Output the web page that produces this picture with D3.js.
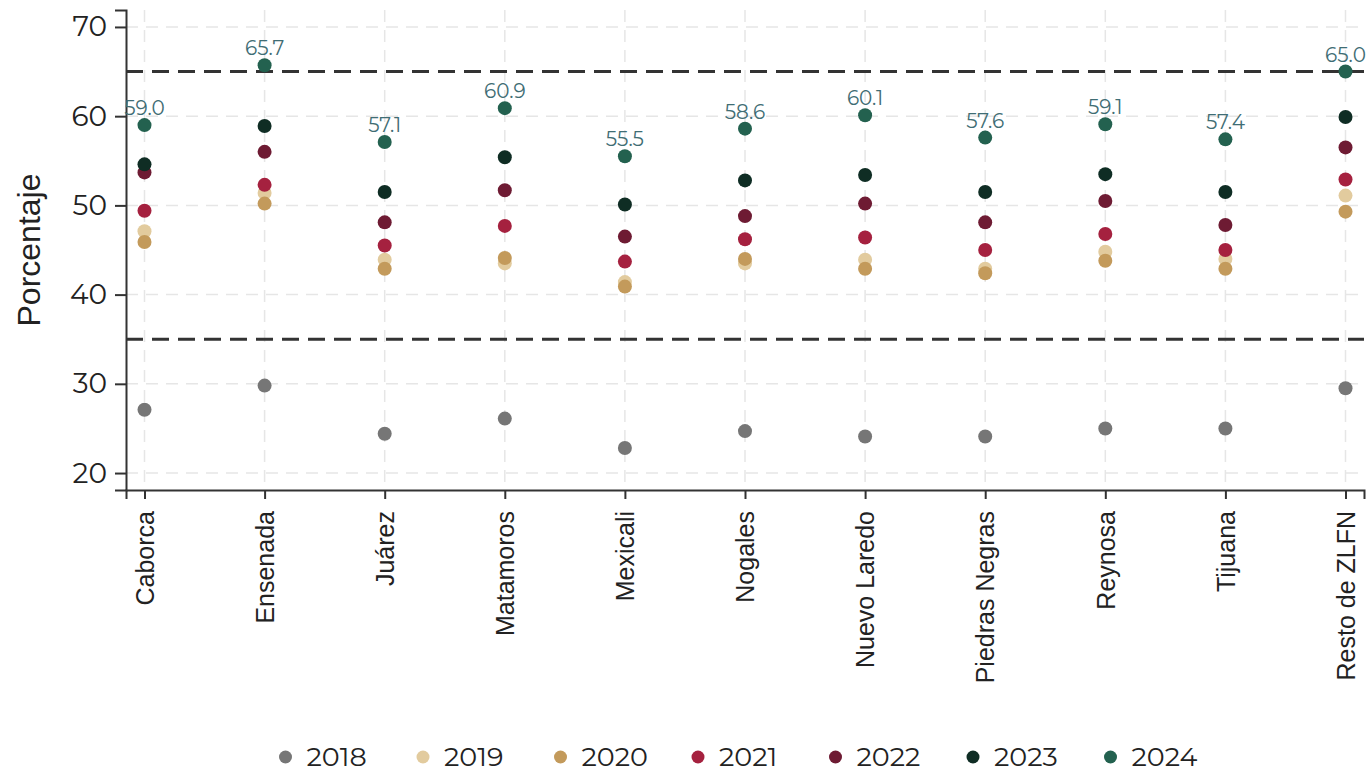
<!DOCTYPE html>
<html>
<head>
<meta charset="utf-8">
<script src="https://cdn.jsdelivr.net/npm/d3@7"></script>
<style>
  body { margin: 0; background: #fff; }
  svg { display: block; font-family: Montserrat, "DejaVu Sans", sans-serif; }
</style>
</head>
<body>
<svg id="chart" width="1369" height="772"></svg>
<script>
// data
let cities = ['Caborca','Ensenada','Juárez','Matamoros','Mexicali','Nogales',
  'Nuevo Laredo','Piedras Negras','Reynosa','Tijuana','Resto de ZLFN'];
let years = ['2018','2019','2020','2021','2022','2023','2024'];
let colors = ['#767676','#e2cb9e','#c39a5b','#a5213f','#6e1b33','#0f2d24','#23614f'];

let v2018 = [27.1,29.8,24.4,26.1,22.8,24.7,24.1,24.1,25.0,25.0,29.5];
let v2019 = [47.1,51.4,43.9,43.5,41.4,43.5,43.9,42.9,44.8,44.0,51.1];
let v2020 = [45.9,50.2,42.9,44.1,40.9,44.0,42.9,42.4,43.8,42.9,49.3];
let v2021 = [49.4,52.3,45.5,47.7,43.7,46.2,46.4,45.0,46.8,45.0,52.9];
let v2022 = [53.7,56.0,48.1,51.7,46.5,48.8,50.2,48.1,50.5,47.8,56.5];
let v2023 = [54.6,58.9,51.5,55.4,50.1,52.8,53.4,51.5,53.5,51.5,59.9];
let v2024 = [59.0,65.7,57.1,60.9,55.5,58.6,60.1,57.6,59.1,57.4,65.0];
let series = [v2018,v2019,v2020,v2021,v2022,v2023,v2024];

let yTicks = [20,30,40,50,60,70];
let refLines = [35,65];

let chart = d3.select('#chart');

let xScale = d3.scalePoint()
  .domain(cities)
  .range([126,1364])
  .padding(0.154);

let yScale = d3.scaleLinear()
  .domain([18.1,71.9])
  .range([490,10]);

// grid
let grid = chart.append('g')
  .attr('stroke','#e6e6e6')
  .attr('stroke-width',1.5)
  .attr('stroke-dasharray','12,8');
grid.selectAll('.hg').data(yTicks).enter().append('line')
  .attr('x1',126).attr('x2',1364)
  .attr('y1',d => yScale(d)).attr('y2',d => yScale(d));
grid.selectAll('.vg').data(cities).enter().append('line')
  .attr('x1',d => xScale(d)).attr('x2',d => xScale(d))
  .attr('y1',10).attr('y2',490);

// reference lines
chart.append('g').selectAll('line').data(refLines).enter().append('line')
  .attr('x1',126).attr('x2',1364)
  .attr('y1',d => yScale(d)).attr('y2',d => yScale(d))
  .attr('stroke','#333')
  .attr('stroke-width',3)
  .attr('stroke-dasharray','17,9');

// axes
let yAxis = chart.append('g')
  .attr('transform','translate(126,0)')
  .call(d3.axisLeft(yScale).tickValues(yTicks).tickSize(11).tickPadding(8));
let xAxis = chart.append('g')
  .attr('transform','translate(0,490)')
  .call(d3.axisBottom(xScale).tickSize(9).tickPadding(6));

[yAxis,xAxis].forEach(function(ax) {
  ax.select('.domain').attr('stroke','#333').attr('stroke-width',2);
  ax.selectAll('.tick line').attr('stroke','#333').attr('stroke-width',2);
  ax.selectAll('.tick text').attr('fill','#222');
});
yAxis.attr('font-family',null);
yAxis.selectAll('.tick text').attr('font-size',28);
xAxis.attr('font-family','"Liberation Sans", Arial, sans-serif');
xAxis.selectAll('.tick text')
  .attr('font-size',25)
  .attr('text-anchor','end')
  .attr('dy','0.35em')
  .attr('transform','translate(0,21) rotate(-90)')
  .attr('x',0).attr('y',0);

chart.append('text')
  .attr('transform','translate(40,250) rotate(-90)')
  .attr('text-anchor','middle')
  .attr('font-family','"Liberation Sans", Arial, sans-serif')
  .attr('font-size',32)
  .attr('fill','#222')
  .text('Porcentaje');

// points
series.forEach(function(vals,i) {
  chart.append('g').selectAll('circle').data(vals).enter().append('circle')
    .attr('cx',(d,j) => xScale(cities[j]))
    .attr('cy',d => yScale(d))
    .attr('r',7)
    .attr('fill',colors[i]);
});

// labels for 2024
chart.append('g').selectAll('text').data(v2024).enter().append('text')
  .attr('x',(d,j) => xScale(cities[j]))
  .attr('y',d => yScale(d) - 10)
  .attr('text-anchor','middle')
  .attr('font-size',20)
  .attr('fill','#3f6d74')
  .text(d => d.toFixed(1));

// legend
let legend = chart.append('g').selectAll('g').data(years).enter().append('g')
  .attr('transform',(d,i) => 'translate(' + (285.5 + i*137.5) + ',757)');
legend.append('circle')
  .attr('r',6.5)
  .attr('fill',(d,i) => colors[i]);
legend.append('text')
  .attr('x',21)
  .attr('dy','0.35em')
  .attr('font-size',27)
  .attr('fill','#222')
  .text(d => d);
</script>
</body>
</html>
